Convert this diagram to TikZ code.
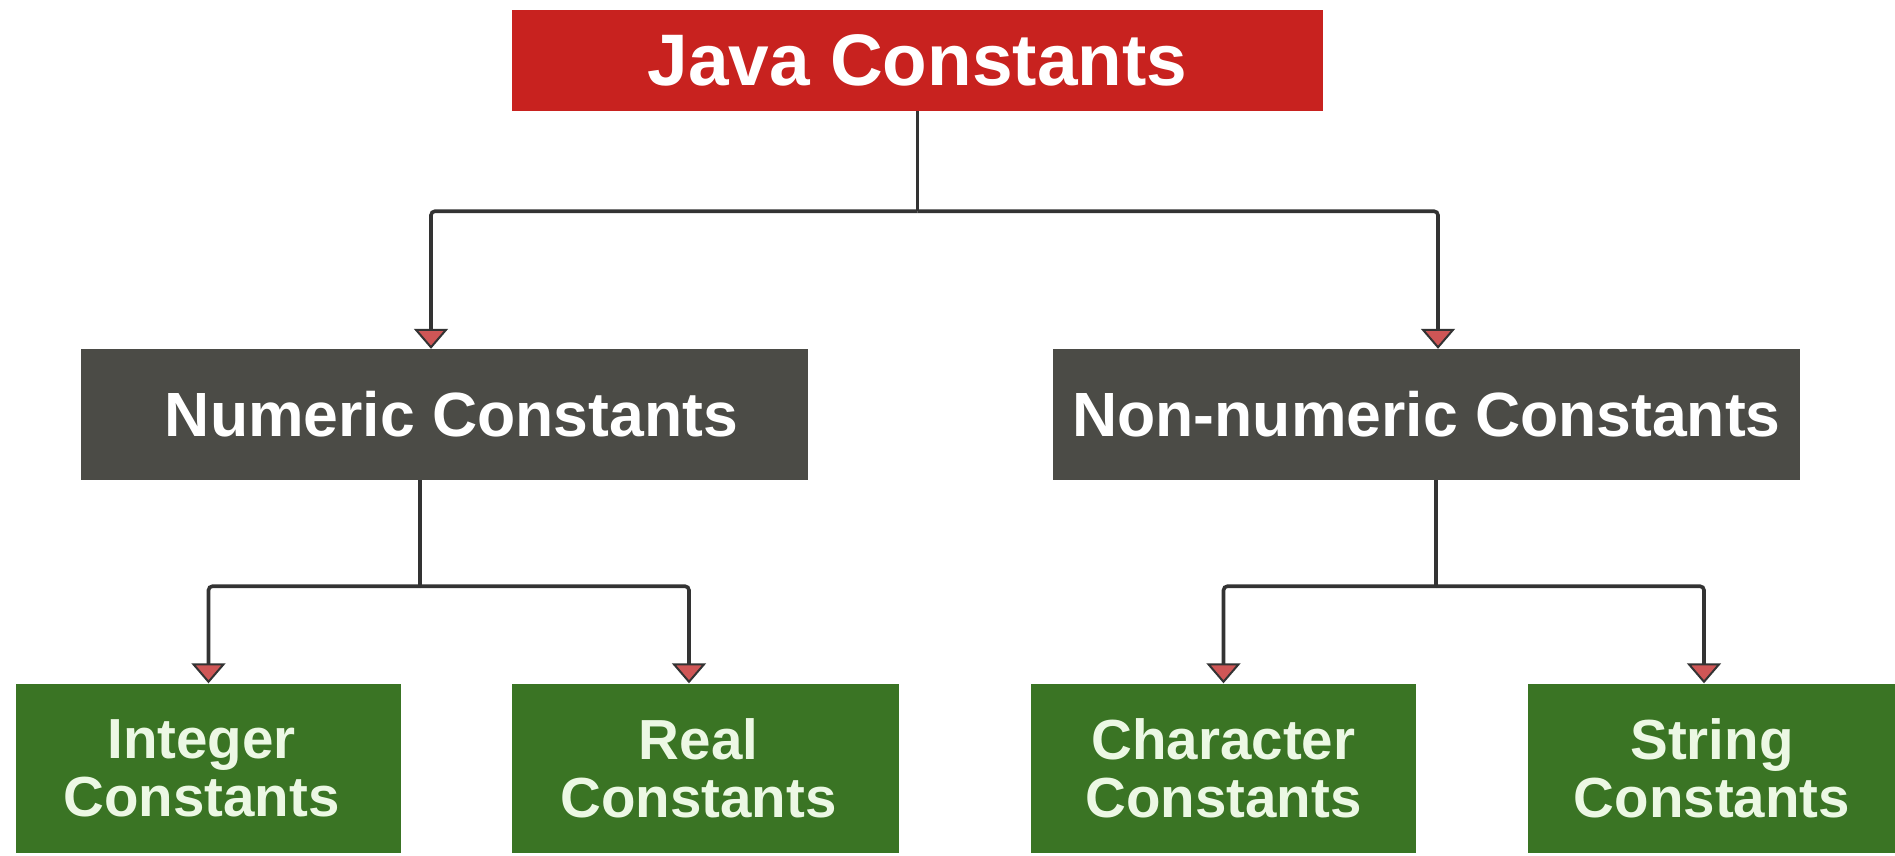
\documentclass[tikz,border=0pt]{standalone}
\usepackage{fontspec}
\setmainfont{Liberation Sans}
\usetikzlibrary{arrows.meta}
\definecolor{jred}{HTML}{C8221F}
\definecolor{jgray}{HTML}{4B4B46}
\definecolor{jgreen}{HTML}{3A7424}
\definecolor{jline}{HTML}{333333}
\definecolor{jtip}{HTML}{CF5656}
\definecolor{gtext}{HTML}{ECF8E4}
\begin{document}
\begin{tikzpicture}[x=1pt,y=-1pt,
  box/.style={rectangle, inner sep=0pt, text=white, align=center, font=\bfseries},
  topbox/.style={box, fill=jred, minimum width=811pt, minimum height=101pt, font=\fontsize{73}{76}\selectfont\bfseries},
  midbox/.style={box, fill=jgray, minimum height=131pt, font=\fontsize{62.5}{66}\selectfont\bfseries},
  leafbox/.style={box, fill=jgreen, minimum height=169pt, text=gtext, font=\fontsize{56.5}{58}\selectfont\bfseries},
  conn/.style={draw=jline, line width=3.6pt, rounded corners=4pt},
  arr/.style={conn, -{Triangle[width=34pt,length=20pt,fill=jtip,line width=2pt]}}]
\useasboundingbox (0,0) rectangle (1895,855);
\clip (0,0) rectangle (1895,855);
\fill[white] (0,0) rectangle (1895,855);
\node[topbox] (java) at (917.5,60.5) {Java Constants};
\node[midbox, minimum width=727pt] (numeric) at (444.5,414.5) {\hspace*{14pt}Numeric Constants};
\node[midbox, minimum width=747pt] (nonnum) at (1426.5,414.5) {Non-numeric Constants};
\node[leafbox, minimum width=385pt] (int) at (208.5,768) {\hspace*{-14pt}Integer\\\hspace*{-14pt}Constants};
\node[leafbox, minimum width=387pt] (real) at (705.5,768) {\hspace*{-14pt}Real\\\hspace*{-14pt}Constants};
\node[leafbox, minimum width=385pt] (char) at (1223.5,768) {Character\\Constants};
\node[leafbox, minimum width=368pt] (string) at (1712,768) {String\\Constants};
\draw[conn] (java.south) -- ++(0,100) coordinate (j1);
\draw[arr] (j1) -| ([xshift=-13.5pt]numeric.north);
\draw[arr] (j1) -| ([xshift=11.5pt]nonnum.north);
\draw[conn] ([xshift=-24.5pt]numeric.south) -- ++(0,106) coordinate (n1);
\draw[arr] (n1) -| (int.north);
\draw[arr] (n1) -| ([xshift=-16.5pt]real.north);
\draw[conn] ([xshift=9.5pt]nonnum.south) -- ++(0,106) coordinate (m1);
\draw[arr] (m1) -| (char.north);
\draw[arr] (m1) -| ([xshift=-8pt]string.north);
\end{tikzpicture}
\end{document}
